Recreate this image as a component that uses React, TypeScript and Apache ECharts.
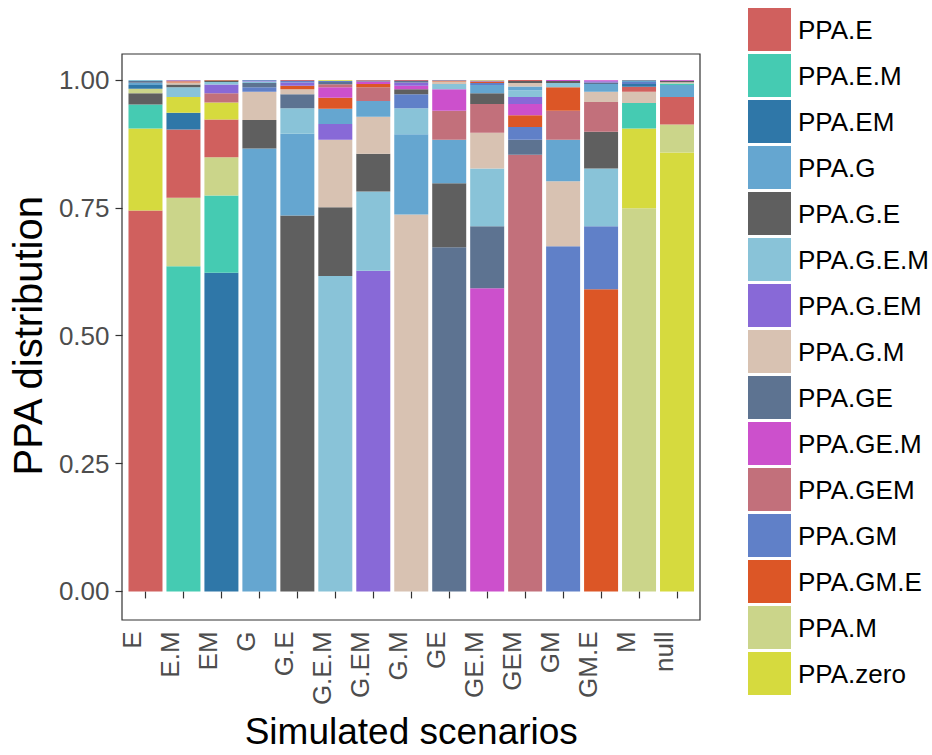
import React, { useEffect, useRef } from "react";
import * as echarts from "echarts";

const scenarios = ["E", "E.M", "EM", "G", "G.E", "G.E.M", "G.EM", "G.M", "GE", "GE.M", "GEM", "GM", "GM.E", "M", "null"];

const ppaNames = [
  "PPA.E", "PPA.E.M", "PPA.EM", "PPA.G", "PPA.G.E", "PPA.G.E.M", "PPA.G.EM", "PPA.G.M",
  "PPA.GE", "PPA.GE.M", "PPA.GEM", "PPA.GM", "PPA.GM.E", "PPA.M", "PPA.zero",
];

const ppaColors = [
  "#D0605E", "#45CBB2", "#2F77A8", "#65A6D0", "#5F5F5F", "#89C3D8", "#8869D7", "#D8C2B2",
  "#5D7391", "#CC50CC", "#C2707B", "#6080C8", "#DC5626", "#CBD58A", "#D6DA3E",
];

// values per PPA type, in scenario order
const ppaE = [0.745, 0.133, 0.074, 0, 0, 0, 0.001, 0, 0, 0, 0.002, 0, 0, 0.010, 0.054];
const ppaEM_ = [0.047, 0.636, 0.151, 0, 0, 0, 0, 0, 0, 0, 0, 0, 0, 0.050, 0.003];
const ppaEM = [0.007, 0.033, 0.623, 0.001, 0, 0, 0, 0, 0, 0, 0, 0, 0, 0.005, 0];
const ppaG = [0.0045, 0, 0, 0.866, 0.160, 0.030, 0.031, 0.157, 0.085, 0.016, 0.0075, 0.081, 0.015, 0.002, 0.023];
const ppaGE_ = [0.022, 0.005, 0.003, 0.056, 0.735, 0.134, 0.074, 0.010, 0.125, 0.021, 0.004, 0.004, 0.072, 0, 0.0025];
const ppaGEM_ = [0.002, 0.019, 0.005, 0.003, 0.050, 0.617, 0.155, 0.051, 0.010, 0.113, 0.013, 0.008, 0.113, 0, 0];
const ppaGEMx = [0, 0.0015, 0.017, 0.002, 0.006, 0.031, 0.627, 0.006, 0, 0.002, 0.014, 0, 0.0025, 0, 0];
const ppaGM_ = [0, 0.004, 0, 0.055, 0.010, 0.132, 0.072, 0.737, 0.005, 0.070, 0.0065, 0.127, 0.020, 0.022, 0.0028];
const ppaGE = [0.0035, 0, 0, 0.008, 0.027, 0.0045, 0.002, 0.003, 0.673, 0.121, 0.029, 0, 0.003, 0.0015, 0];
const ppaGEdotM = [0, 0, 0, 0, 0, 0.0205, 0.005, 0.007, 0.042, 0.593, 0.022, 0.002, 0.002, 0, 0.0018];
const ppaGEM = [0, 0.0018, 0.018, 0, 0.002, 0.0055, 0.027, 0.002, 0.057, 0.056, 0.854, 0.057, 0.058, 0, 0];
const ppaGM = [0.001, 0, 0, 0.009, 0.003, 0.002, 0, 0.027, 0.0015, 0.004, 0.025, 0.675, 0.123, 0.004, 0];
const ppaGMdotE = [0, 0.002, 0.002, 0, 0.007, 0.0215, 0.006, 0, 0.002, 0.003, 0.023, 0.046, 0.591, 0, 0];
const ppaM = [0.009, 0.134, 0.075, 0, 0, 0, 0, 0, 0, 0, 0, 0, 0, 0.749, 0.055];
const ppaZero = [0.160, 0.031, 0.033, 0, 0, 0.0015, 0, 0, 0, 0.001, 0, 0, 0, 0.156, 0.858];

const ppaValues = [ppaE, ppaEM_, ppaEM, ppaG, ppaGE_, ppaGEM_, ppaGEMx, ppaGM_, ppaGE, ppaGEdotM, ppaGEM, ppaGM, ppaGMdotE, ppaM, ppaZero];

const yTicks = [0, 0.25, 0.5, 0.75, 1.0];

const FONT = "'Liberation Sans', Arial, Helvetica, sans-serif";

export default function App() {
  const ref = useRef<HTMLDivElement>(null);

  useEffect(() => {
    if (!ref.current) return;
    const chart = echarts.init(ref.current, undefined, { renderer: "svg" });

    // per scenario: components sorted largest at the bottom
    const perScenario = scenarios.map((_, i) =>
      ppaNames
        .map((n, t) => ({ t, v: ppaValues[t][i] }))
        .filter((d) => d.v > 0)
        .sort((a, b) => b.v - a.v)
    );
    const nLayers = Math.max(...perScenario.map((s) => s.length));

    const layerSeries: any[] = [];
    for (let k = 0; k < nLayers; k++) {
      layerSeries.push({
        type: "bar",
        name: "layer" + k,
        stack: "total",
        barWidth: 34,
        silent: true,
        data: perScenario.map((s) =>
          s[k]
            ? { value: s[k].v, itemStyle: { color: ppaColors[s[k].t] } }
            : { value: 0, itemStyle: { color: "transparent" } }
        ),
      });
    }

    const legendSeries = ppaNames.map((n, t) => ({
      type: "bar",
      name: n,
      stack: "total",
      barWidth: 34,
      itemStyle: { color: ppaColors[t] },
      data: [],
    }));

    chart.setOption({
      animation: false,
      backgroundColor: "#ffffff",
      textStyle: { fontFamily: FONT },
      grid: { left: 126, right: 236, top: 80, bottom: 161, containLabel: false },
      legend: {
        data: ppaNames,
        orient: "vertical",
        left: 748,
        top: 8,
        padding: 0,
        itemWidth: 43,
        itemHeight: 43,
        itemGap: 3,
        icon: "rect",
        selectedMode: false,
        textStyle: { fontSize: 26, color: "#000000", fontFamily: FONT, padding: [0, 0, 0, 2] },
      },
      xAxis: {
        type: "category",
        data: scenarios,
        offset: 26,
        name: "Simulated scenarios",
        nameLocation: "middle",
        nameGap: 92,
        nameTextStyle: { fontSize: 37, color: "#000000", fontFamily: FONT },
        axisLine: { show: false },
        axisTick: { show: true, alignWithLabel: true, length: 7, lineStyle: { color: "#333333", width: 1.2 } },
        axisLabel: {
          rotate: 90,
          fontSize: 26,
          color: "#4D4D4D",
          margin: 14,
          verticalAlign: "bottom",
          fontFamily: FONT,
        },
        splitLine: { show: false },
      },
      yAxis: {
        type: "value",
        min: 0,
        max: 1,
        interval: 0.25,
        offset: 4,
        name: "PPA distribution",
        nameLocation: "middle",
        nameGap: 70,
        nameTextStyle: { fontSize: 40, color: "#000000", fontFamily: FONT },
        axisLine: { show: false },
        axisTick: { show: true, length: 7, lineStyle: { color: "#333333", width: 1.2 } },
        axisLabel: {
          fontSize: 26,
          color: "#4D4D4D",
          margin: 13,
          fontFamily: FONT,
          formatter: (v: number) => (yTicks.includes(v) ? v.toFixed(2) : ""),
        },
        splitLine: { show: false },
      },
      graphic: [
        {
          type: "rect",
          shape: { x: 122, y: 54, width: 578, height: 566 },
          style: { fill: "none", stroke: "#333333", lineWidth: 1.2 },
          silent: true,
          z: 100,
        },
      ],
      series: [...layerSeries, ...legendSeries],
    });

    return () => chart.dispose();
  }, []);

  return (
    <div
      ref={ref}
      style={{ position: "fixed", left: 0, top: 0, width: 932, height: 755, background: "#fff" }}
    />
  );
}
